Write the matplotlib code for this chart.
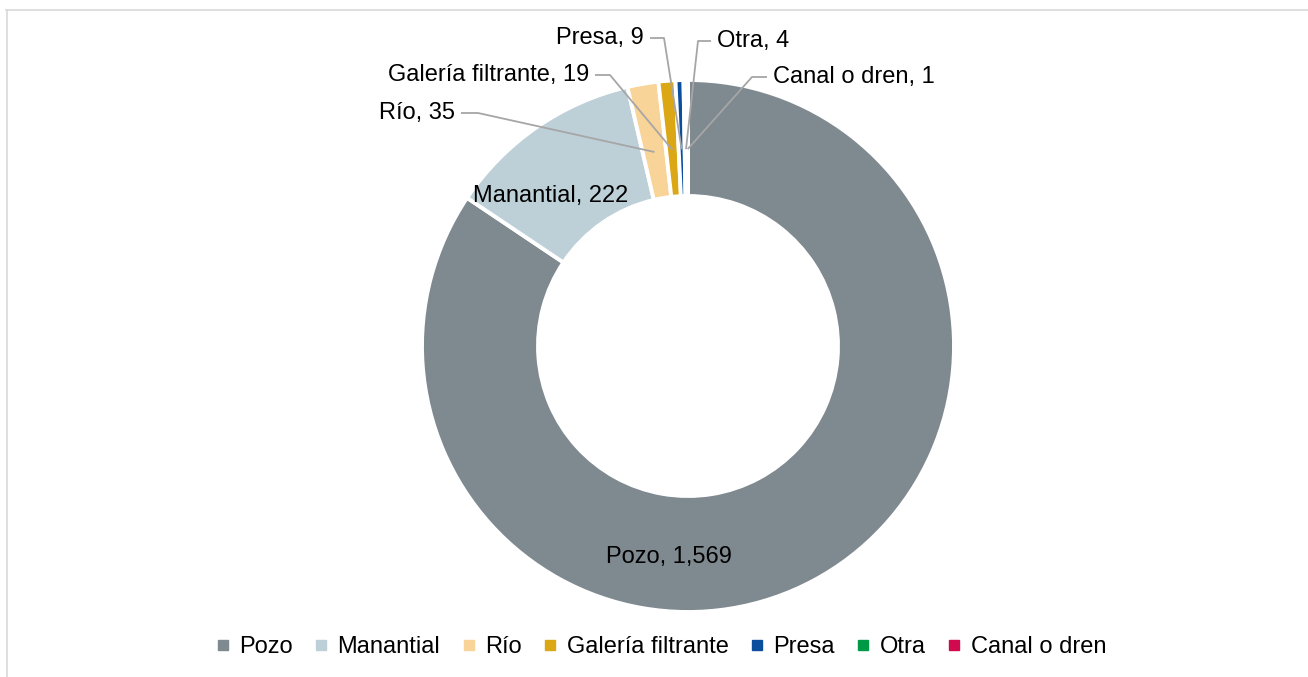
import matplotlib
matplotlib.use("Agg")
import matplotlib.pyplot as plt
import numpy as np
from matplotlib.lines import Line2D

plt.rcParams['font.family'] = ['Liberation Sans', 'DejaVu Sans']

# data
categories = ['Pozo', 'Manantial', 'Río', 'Galería filtrante', 'Presa', 'Otra', 'Canal o dren']
values = [1569, 222, 35, 19, 9, 4, 1]
colors = ['#7F8990', '#BDD0D8', '#F9D498', '#DBA715', '#0B4E9E', '#009A46', '#D10A4F']

# layout (pixels of a 1308x677 canvas)
W, H = 1308, 677
CX, CY, R = 688, 346, 266


def px(x, y):
    return (x - CX) / R, (CY - y) / R


fig = plt.figure(figsize=(W / 100, H / 100), dpi=100)
ax = fig.add_axes([0, 0, 1, 1])

wedges, _ = ax.pie(values, colors=colors, startangle=90, counterclock=False,
                   radius=1, wedgeprops=dict(width=(266 - 150) / 266,
                                             edgecolor='white', linewidth=2.8))
ax.set_aspect('auto')
ax.set_xlim(-CX / R, (W - CX) / R)
ax.set_ylim(-(H - CY) / R, CY / R)
ax.axis('off')


def label(v):
    return '{:,}'.format(v)


# labels inside the ring
inside = {'Pozo': (669, 557), 'Manantial': (551, 196)}
for name, (x, y) in inside.items():
    i = categories.index(name)
    ax.text(*px(x, y), f'{name}, {label(values[i])}', fontsize=17,
            ha='center', va='center', color='black')

# labels outside with leader lines: text anchor, alignment, elbow x
outside = {
    'Río': (455, 113, 'right', 478),
    'Galería filtrante': (589, 75, 'right', 610),
    'Presa': (644, 38, 'right', 664),
    'Otra': (717, 41, 'left', 698),
    'Canal o dren': (773, 77, 'left', 752),
}
total = sum(values)
cum = np.cumsum(values) - np.array(values) / 2
for name, (tx, ty, ha, ex) in outside.items():
    i = categories.index(name)
    ang = np.deg2rad(90 - 360 * cum[i] / total)
    end = (0.74 * np.cos(ang), 0.74 * np.sin(ang))
    ax.text(*px(tx, ty), f'{name}, {label(values[i])}', fontsize=17,
            ha=ha, va='center', color='black')
    sx = tx + 6 if ha == 'right' else tx - 6
    p0 = px(sx, ty)
    p1 = px(ex, ty)
    ax.plot([p0[0], p1[0], end[0]], [p0[1], p1[1], end[1]],
            color='#A6A6A6', lw=1.3, solid_capstyle='butt')

# legend
handles = [Line2D([], [], marker='s', ls='none', markersize=6.5,
                  markerfacecolor=c, markeredgecolor=c) for c in colors]
fig.legend(handles, categories, loc='center', ncol=7,
           bbox_to_anchor=(662 / W, 1 - 647 / H), frameon=False,
           fontsize=17, handlelength=0.4, handletextpad=0.5,
           columnspacing=1.0)

# chart frame (partially visible)
fig.add_artist(Line2D([6 / W, 1], [1 - 10 / H, 1 - 10 / H],
                      transform=fig.transFigure, color='#D9D9D9', lw=1.2))
fig.add_artist(Line2D([7 / W, 7 / W], [0, 1 - 10 / H],
                      transform=fig.transFigure, color='#D9D9D9', lw=1.2))

fig.savefig('out.png', dpi=100)
